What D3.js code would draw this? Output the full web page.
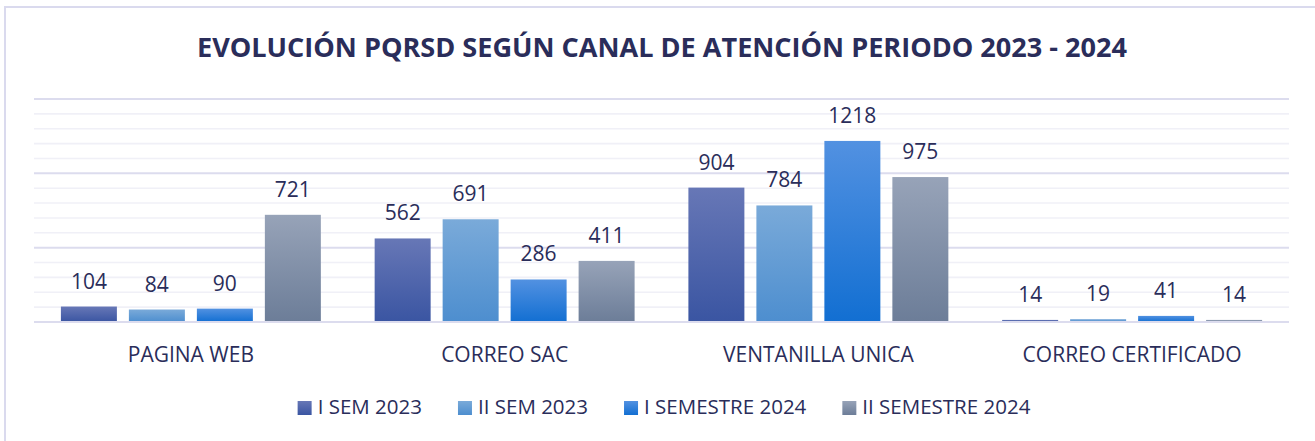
<!DOCTYPE html>
<html>
<head>
<meta charset="utf-8">
<script src="https://cdn.jsdelivr.net/npm/d3@7"></script>
<style>
  html, body { margin: 0; padding: 0; background: #fff; }
  svg { display: block; font-family: "Open Sans", "Noto Sans", sans-serif; }
</style>
</head>
<body>
<svg id="chart" width="1315" height="441"></svg>
<script>
// data
var canales = ["PAGINA WEB", "CORREO SAC", "VENTANILLA UNICA", "CORREO CERTIFICADO"];
var series = ["I SEM 2023", "II SEM 2023", "I SEMESTRE 2024", "II SEMESTRE 2024"];
var semI2023 = [104, 562, 904, 14];
var semII2023 = [84, 691, 784, 19];
var semI2024 = [90, 286, 1218, 41];
var semII2024 = [721, 411, 975, 14];
var yTicks = d3.range(0, 1501, 100);

(function () {
  "use strict";

  var valores = [semI2023, semII2023, semI2024, semII2024],
    colores = [
      ["#6777b6", "#3a55a2"],
      ["#7aaad9", "#4d8ecf"],
      ["#5291e1", "#126fd2"],
      ["#97a3b8", "#6c7d98"]
    ],
    textColor = "#2a2d5a",
    svg = d3.select("#chart"),
    plotLeft = 34, plotRight = 1289, plotTop = 99, plotBottom = 322;

  // frame (only top & left edges visible in the crop)
  svg.append("path")
    .attr("d", "M5,441 L5,7 L1315,7")
    .attr("fill", "none")
    .attr("stroke", "#dadaee")
    .attr("stroke-width", 2);

  var defs = svg.append("defs");
  colores.forEach(function (c, i) {
    var g = defs.append("linearGradient")
      .attr("id", "grad" + i)
      .attr("x1", 0).attr("y1", 0).attr("x2", 0).attr("y2", 1);
    g.append("stop").attr("offset", 0).attr("stop-color", c[0]);
    g.append("stop").attr("offset", 1).attr("stop-color", c[1]);
  });

  var x0 = d3.scaleBand().domain(canales).range([plotLeft, plotRight]);
  var x1 = d3.scaleBand().domain(series)
    .range([26.9, x0.bandwidth() - 26.9])
    .paddingInner(0.1765).paddingOuter(0);
  var y = d3.scaleLinear().domain([0, 1500]).range([plotBottom, plotTop]);

  // gridlines
  svg.append("g").selectAll("line")
    .data(yTicks)
    .enter().append("line")
    .attr("x1", plotLeft).attr("x2", plotRight)
    .attr("y1", function (d) { return y(d); })
    .attr("y2", function (d) { return y(d); })
    .attr("stroke", function (d) { return d % 500 === 0 ? "#dcdcee" : "#f0f0f7"; })
    .attr("stroke-width", function (d) { return d % 500 === 0 ? 2 : 1.6; });

  // title
  svg.append("text")
    .attr("x", 662).attr("y", 57)
    .attr("text-anchor", "middle")
    .attr("font-size", 26).attr("font-weight", 700)
    .attr("fill", textColor)
    .attr("textLength", 930).attr("lengthAdjust", "spacingAndGlyphs")
    .text("EVOLUCIÓN PQRSD SEGÚN CANAL DE ATENCIÓN PERIODO 2023 - 2024");

  // bars
  var grupos = svg.append("g").selectAll("g")
    .data(canales)
    .enter().append("g")
    .attr("transform", function (d) { return "translate(" + x0(d) + ",0)"; });

  var celdas = grupos.selectAll("g")
    .data(function (d, ci) {
      return series.map(function (s, si) {
        return { serie: s, si: si, v: valores[si][ci] };
      });
    })
    .enter().append("g");

  celdas.append("rect")
    .attr("x", function (d) { return x1(d.serie); })
    .attr("width", x1.bandwidth())
    .attr("y", function (d) { return y(d.v); })
    .attr("height", function (d) { return plotBottom - y(d.v); })
    .attr("fill", function (d) { return "url(#grad" + d.si + ")"; });

  celdas.append("text")
    .attr("x", function (d) { return x1(d.serie) + x1.bandwidth() / 2; })
    .attr("y", function (d) { return y(d.v) - 18; })
    .attr("text-anchor", "middle")
    .attr("font-size", 21)
    .attr("fill", textColor)
    .text(function (d) { return d.v; });

  // baseline on top of bars
  svg.append("line")
    .attr("x1", plotLeft).attr("x2", plotRight)
    .attr("y1", y(0)).attr("y2", y(0))
    .attr("stroke", "#dcdcee").attr("stroke-width", 2);

  // category labels
  svg.append("g").selectAll("text")
    .data(canales)
    .enter().append("text")
    .attr("x", function (d) { return x0(d) + x0.bandwidth() / 2; })
    .attr("y", 362)
    .attr("text-anchor", "middle")
    .attr("font-size", 21)
    .attr("fill", textColor)
    .text(function (d) { return d; });

  // legend
  var items = svg.append("g").selectAll("g").data(series).enter().append("g");
  items.append("rect")
    .attr("width", 14).attr("height", 14)
    .attr("y", 401)
    .attr("fill", function (d, i) { return "url(#grad" + i + ")"; });
  items.append("text")
    .attr("x", 20).attr("y", 414)
    .attr("font-size", 20.5)
    .attr("fill", textColor)
    .text(function (d) { return d; });

  var pos = 0, offs = [];
  items.each(function () {
    offs.push(pos);
    pos += d3.select(this).select("text").node().getComputedTextLength() + 20 + 36;
  });
  var start = 664 - (pos - 36) / 2;
  items.attr("transform", function (d, i) {
    return "translate(" + (start + offs[i]) + ",0)";
  });
}());
</script>
</body>
</html>
